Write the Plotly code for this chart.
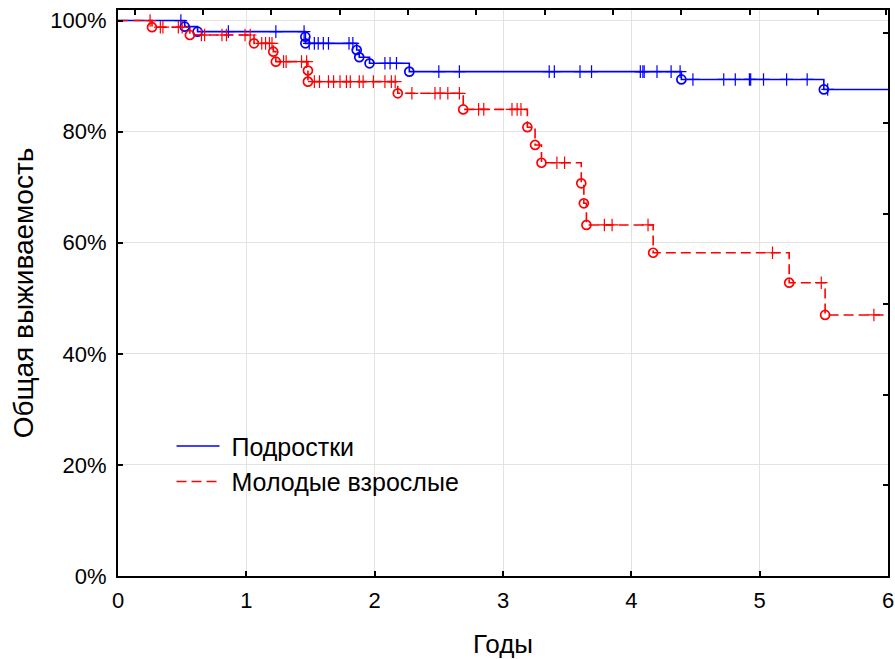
import plotly.graph_objects as go
import numpy as np

# ---- data ----
teen_event_t = [0.52, 0.62, 1.46, 1.46, 1.86, 1.88, 1.96, 2.27, 4.39, 5.50]
teen_event_s = [98.9, 98.0, 97.1, 95.9, 94.7, 93.4, 92.3, 90.8, 89.4, 87.6]
teen_cens_t = [0.49, 0.86, 1.23, 1.45, 1.49, 1.53, 1.56, 1.60, 1.64, 1.80, 1.83,
               2.08, 2.12, 2.17, 2.50, 2.66, 3.36, 3.40, 3.60, 3.69, 4.07, 4.09,
               4.10, 4.20, 4.31, 4.38, 4.48, 4.72, 4.81, 4.92, 4.93, 5.03, 5.21,
               5.37, 5.53]

adult_event_t = [0.265, 0.56, 1.06, 1.21, 1.23, 1.48, 1.48, 2.18, 2.69, 3.19,
                 3.25, 3.30, 3.61, 3.63, 3.65, 4.17, 5.23, 5.51]
adult_event_s = [98.8, 97.4, 95.9, 94.4, 92.6, 91.0, 89.0, 86.9, 84.0, 80.8,
                 77.6, 74.4, 70.7, 67.1, 63.2, 58.2, 52.8, 47.0]
adult_cens_t = [0.25, 0.33, 0.35, 0.47, 0.50, 0.65, 0.675, 0.81, 0.845, 0.99,
                1.03, 1.12, 1.15, 1.18, 1.20, 1.29, 1.31, 1.43, 1.47, 1.53, 1.57,
                1.64, 1.68, 1.73, 1.78, 1.81, 1.88, 1.91, 1.99, 2.08, 2.13, 2.16,
                2.29, 2.47, 2.51, 2.57, 2.66, 2.81, 2.85, 3.07, 3.11, 3.14, 3.42,
                3.48, 3.79, 3.85, 4.13, 5.10, 5.48, 5.89]

series_names = ["Подростки", "Молодые взрослые"]
x_tick_vals = [0, 1, 2, 3, 4, 5, 6]
y_tick_vals = [0, 20, 40, 60, 80, 100]
y_tick_text = ["0%", "20%", "40%", "60%", "80%", "100%"]
x_title = "Годы"
y_title = "Общая выживаемость"

X_MAX = 6.0
FONT = "Liberation Sans, Arial, sans-serif"
NBSP = "\u00a0"


def step_path(ev_t, ev_s):
    xs = [0.0] + list(ev_t) + [X_MAX]
    ys = [100.0] + list(ev_s) + [ev_s[-1]]
    return xs, ys


def surv_at(t, ev_t, ev_s):
    s = 100.0
    for et, es in zip(ev_t, ev_s):
        if et <= t:
            s = es
    return s


fig = go.Figure()

groups = [
    (series_names[0], teen_event_t, teen_event_s, teen_cens_t, "#0000ff", "solid"),
    (series_names[1], adult_event_t, adult_event_s, adult_cens_t, "#ff0000", "10px,5px"),
]

for name, et, es, ct, col, dash in groups:
    xs, ys = step_path(et, es)
    fig.add_trace(go.Scatter(x=xs, y=ys, mode="lines", line_shape="hv",
                             line=dict(color=col, width=1.6, dash=dash),
                             name=NBSP + name, showlegend=True))
for name, et, es, ct, col, dash in groups:
    fig.add_trace(go.Scatter(x=et, y=es, mode="markers", showlegend=False,
                             marker=dict(symbol="circle-open", size=9, color=col,
                                         line=dict(width=1.7, color=col))))
    cy = [surv_at(t, et, es) for t in ct]
    fig.add_trace(go.Scatter(x=ct, y=cy, mode="markers", showlegend=False,
                             marker=dict(symbol="cross-thin", size=9, color=col,
                                         line=dict(width=1.2, color=col))))

# invisible trace to activate mirrored axes with their own tick spacing
fig.add_trace(go.Scatter(x=[0], y=[0], xaxis="x2", yaxis="y2", mode="markers",
                         marker=dict(opacity=0), showlegend=False, hoverinfo="skip"))

fig.update_layout(
    width=895, height=659,
    margin=dict(l=118, r=7, t=10, b=83, autoexpand=False),
    paper_bgcolor="white", plot_bgcolor="white",
    font=dict(family=FONT, color="black", size=22),
    showlegend=True,
    legend=dict(x=0.0695, y=0.27, xanchor="left", yanchor="top",
                bgcolor="rgba(0,0,0,0)", borderwidth=0,
                font=dict(family=FONT, size=25, color="black"),
                itemwidth=43, tracegroupgap=0),
    xaxis=dict(range=[0, X_MAX], tickvals=x_tick_vals, automargin=False,
               ticks="inside", ticklen=5, tickwidth=1.5, tickcolor="black",
               showline=True, linecolor="black", linewidth=2, mirror=True,
               showgrid=True, gridcolor="#e3e3e3", gridwidth=1, zeroline=False,
               ticklabelstandoff=4,
               title=dict(text=x_title, font=dict(size=26), standoff=24)),
    yaxis=dict(range=[0, 101.9], tickvals=y_tick_vals, ticktext=y_tick_text,
               automargin=False,
               ticks="inside", ticklen=5, tickwidth=1.5, tickcolor="black",
               showline=True, linecolor="black", linewidth=2, mirror=True,
               showgrid=True, gridcolor="#e3e3e3", gridwidth=1, zeroline=False,
               ticklabelstandoff=5,
               title=dict(text=y_title, font=dict(size=28), standoff=9)),
    xaxis2=dict(overlaying="x", side="top", range=[0, X_MAX], automargin=False,
                tickmode="linear", tick0=0.13, dtick=0.5325,
                ticks="inside", ticklen=5, tickwidth=1.5, tickcolor="black",
                showticklabels=False, showgrid=False, zeroline=False, showline=False),
    yaxis2=dict(overlaying="y", side="right", range=[0, 101.9], automargin=False,
                tickmode="linear", tick0=0, dtick=16.3,
                ticks="inside", ticklen=5, tickwidth=1.5, tickcolor="black",
                showticklabels=False, showgrid=False, zeroline=False, showline=False),
)

fig.write_html("out.html", config={"displayModeBar": False},
               post_script="document.body.style.margin='0';document.body.style.padding='0';")
